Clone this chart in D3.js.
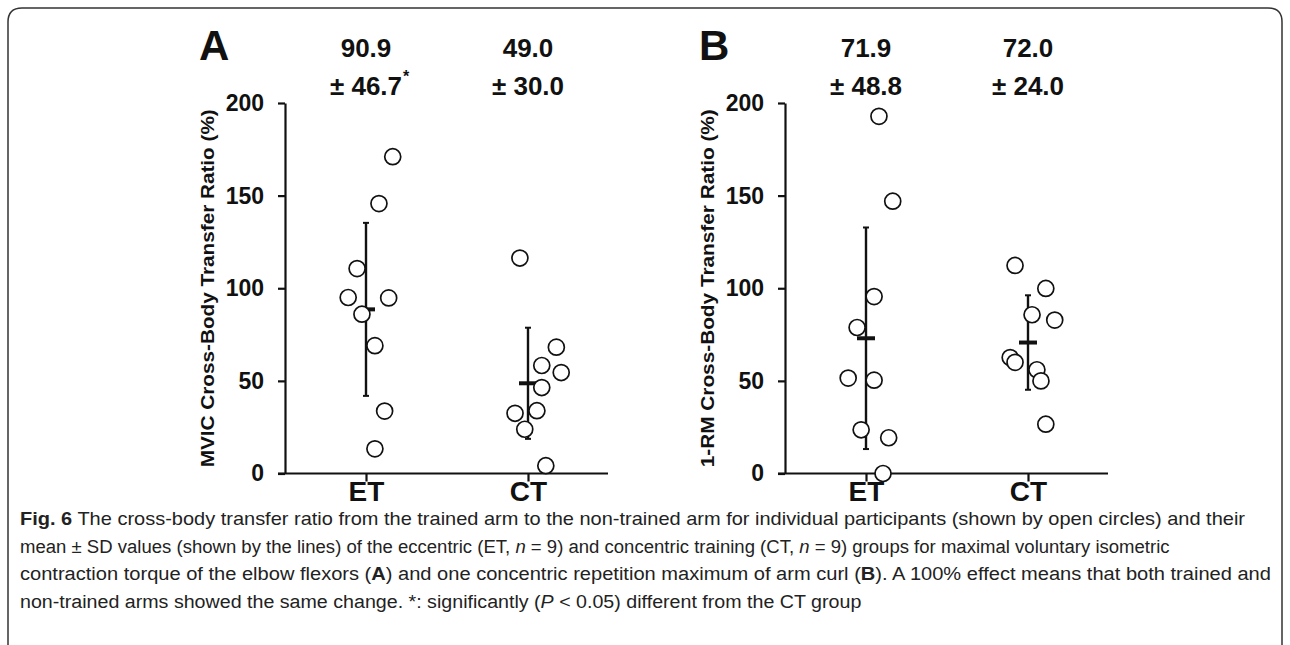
<!DOCTYPE html>
<html>
<head>
<meta charset="utf-8">
<script src="https://cdn.jsdelivr.net/npm/d3@7"></script>
<style>
  body { margin: 0; background: #fff; }
  text { font-family: "Liberation Sans", Arial, sans-serif; }
</style>
</head>
<body>
<svg width="1290" height="645"></svg>
<script>
const groups = ["ET", "CT"];
const yTicks = [0, 50, 100, 150, 200];

// Panel A: MVIC transfer ratio (%) per participant, jitter in half-step units
const etA = [171, 145.7, 110.6, 95, 94.8, 86, 69, 33.7, 13.3];
const etJitA = [0.33, 0.16, -0.11, -0.22, 0.28, -0.05, 0.11, 0.23, 0.11];
const ctA = [116.3, 68.2, 58.3, 54.5, 46.4, 32.5, 33.9, 23.9, 4.2];
const ctJitA = [-0.10, 0.35, 0.17, 0.41, 0.17, -0.16, 0.11, -0.04, 0.22];
const meanA = [88.6, 48.7];   // as drawn
const sdA = [46.7, 30.0];
const statA = [["90.9", "± 46.7", "*"], ["49.0", "± 30.0", ""]];

// Panel B: 1-RM transfer ratio (%)
const etB = [192.8, 147, 95.5, 78.8, 51.5, 50.4, 23.6, 19.3, 0];
const etJitB = [0.16, 0.33, 0.10, -0.11, -0.22, 0.10, -0.06, 0.28, 0.21];
const ctB = [112.3, 99.9, 85.7, 82.8, 62.6, 60, 56, 50, 26.6];
const ctJitB = [-0.16, 0.22, 0.05, 0.33, -0.22, -0.16, 0.11, 0.16, 0.22];
const meanB = [73.0, 70.7];
const sdB = [59.8, 25.5];
const statB = [["71.9", "± 48.8", ""], ["72.0", "± 24.0", ""]];

const panels = [
  { letter: "A", x0: 285, label: "MVIC Cross-Body Transfer Ratio (%)",
    pts: [etA, ctA], jit: [etJitA, ctJitA], mean: meanA, sd: sdA, stat: statA },
  { letter: "B", x0: 785, label: "1-RM Cross-Body Transfer Ratio (%)",
    pts: [etB, ctB], jit: [etJitB, ctJitB], mean: meanB, sd: sdB, stat: statB }
];

const captionLines = [
  [["Fig. 6", "bold"], [" The cross-body transfer ratio from the trained arm to the non-trained arm for individual participants (shown by open circles) and their"]],
  [["mean ± SD values (shown by the lines) of the eccentric (ET, "], ["n", "italic"], [" = 9) and concentric training (CT, "], ["n", "italic"], [" = 9) groups for maximal voluntary isometric"]],
  [["contraction torque of the elbow flexors ("], ["A", "bold"], [") and one concentric repetition maximum of arm curl ("], ["B", "bold"], ["). A 100% effect means that both trained and"]],
  [["non-trained arms showed the same change. *: significantly ("], ["P", "italic"], [" < 0.05) different from the CT group"]]
];
const captionWidths = [1225, 1150, 1252, 842];

const svg = d3.select("svg");
const ink = "#111";

// frame
svg.append("path")
  .attr("d", "M8,645V22Q8,8,22,8H1268Q1282,8,1282,22V645")
  .attr("fill", "none").attr("stroke", "#333").attr("stroke-width", 1.5);

const y = d3.scaleLinear().domain([0, 200]).range([473.5, 103]);

panels.forEach(p => {
  const x = d3.scalePoint().domain(groups).range([p.x0, p.x0 + 324]).padding(0.5);
  const jit = d3.scaleLinear().domain([-1, 1]).range([-x.step() / 2, x.step() / 2]);
  const g = svg.append("g");

  // y axis
  const ya = g.append("g").attr("transform", `translate(${p.x0},0)`)
    .call(d3.axisLeft(y).tickValues(yTicks).tickSize(7).tickSizeOuter(0).tickPadding(14));
  ya.selectAll("path, line").attr("stroke", ink).attr("stroke-width", 2.2);
  ya.selectAll("text").attr("font-size", 23).attr("font-weight", "bold").attr("fill", ink)
    .attr("font-family", "Liberation Sans, Arial, sans-serif");

  // x axis
  const xa = g.append("g").attr("transform", `translate(0,${y(0)})`)
    .call(d3.axisBottom(x).tickSize(8).tickSizeOuter(0).tickPadding(0));
  xa.select(".domain").attr("d", `M${p.x0 - 7},0H${p.x0 + 323}`);
  xa.selectAll("path, line").attr("stroke", ink).attr("stroke-width", 2.2);
  xa.selectAll("text").attr("font-size", 28).attr("font-weight", "bold").attr("fill", ink)
    .attr("font-family", "Liberation Sans, Arial, sans-serif");

  // y label
  g.append("text")
    .attr("transform", `translate(${p.x0 - 77},${(y(0) + y(200)) / 2}) rotate(-90)`)
    .attr("text-anchor", "middle").attr("dy", "0.35em")
    .attr("font-size", 18).attr("font-weight", "bold").attr("fill", ink)
    .attr("textLength", 358).attr("lengthAdjust", "spacingAndGlyphs")
    .text(p.label);

  // panel letter
  g.append("text").attr("x", p.x0 - 86).attr("y", 60)
    .attr("font-size", 42).attr("font-weight", "bold").attr("fill", ink)
    .text(p.letter);

  groups.forEach((grp, i) => {
    const cx = x(grp);
    const m = p.mean[i], s = p.sd[i];
    // SD line + caps
    g.append("line").attr("x1", cx).attr("x2", cx)
      .attr("y1", y(m + s)).attr("y2", y(m - s))
      .attr("stroke", ink).attr("stroke-width", 2.4);
    [m + s, m - s].forEach(v => {
      g.append("line").attr("x1", cx - 3).attr("x2", cx + 3)
        .attr("y1", y(v)).attr("y2", y(v))
        .attr("stroke", ink).attr("stroke-width", 2);
    });
    // mean bar
    g.append("line").attr("x1", cx - 9).attr("x2", cx + 9)
      .attr("y1", y(m)).attr("y2", y(m))
      .attr("stroke", ink).attr("stroke-width", 4);

    // individual points
    g.append("g").selectAll("circle")
      .data(p.pts[i].map((v, k) => ({ v, j: p.jit[i][k] })))
      .join("circle")
      .attr("cx", d => cx + jit(d.j))
      .attr("cy", d => y(d.v))
      .attr("r", 8)
      .attr("fill", "#fff")
      .attr("stroke", ink)
      .attr("stroke-width", 1.7);

    // mean ± SD label
    const st = p.stat[i];
    g.append("text").attr("x", cx).attr("y", 57)
      .attr("text-anchor", "middle").attr("font-size", 26).attr("font-weight", "bold")
      .attr("fill", ink).text(st[0]);
    const t2 = g.append("text").attr("x", cx).attr("y", 95)
      .attr("text-anchor", "middle").attr("font-size", 26).attr("font-weight", "bold")
      .attr("fill", ink).text(st[1]);
    if (st[2]) {
      const bb = t2.node().getBBox();
      g.append("text").attr("x", bb.x + bb.width + 1).attr("y", 82)
        .attr("font-size", 16).attr("font-weight", "bold").attr("fill", ink).text(st[2]);
    }
  });
});

// caption
const cap = svg.append("g");
captionLines.forEach((line, i) => {
  const t = cap.append("text").attr("x", 0).attr("y", 0)
    .attr("font-size", 19).attr("fill", "#222");
  line.forEach(([s, style]) => {
    const ts = t.append("tspan").text(s);
    if (style === "bold") ts.attr("font-weight", "bold");
    if (style === "italic") ts.attr("font-style", "italic");
  });
  const w = t.node().getComputedTextLength();
  const k = captionWidths[i] / w;
  t.attr("transform", `translate(20,${525 + i * 27.5}) scale(${k},1)`);
});
</script>
</body>
</html>
